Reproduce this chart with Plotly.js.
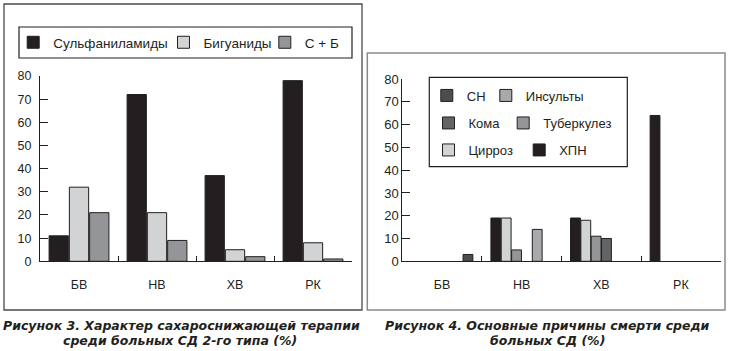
<!DOCTYPE html>
<html>
<head>
<meta charset="utf-8">
<script src="https://cdn.plot.ly/plotly-3.0.1.min.js"></script>
<style>html,body{margin:0;padding:0;background:#fff;}#chart{width:733px;height:351px;}</style>
</head>
<body>
<div id="chart"></div>
<script>
// ---- data ----
const categories = ['БВ', 'НВ', 'ХВ', 'РК'];
const yTickValues = [0, 10, 20, 30, 40, 50, 60, 70, 80];

// Figure 3: therapy (%)
const therapyNames = ['Сульфаниламиды', 'Бигуаниды', 'С + Б'];
const sulfonamides = [11, 72, 37, 78];
const biguanides = [32, 21, 5, 8];
const combined = [21, 9, 2, 1];

// Figure 4: causes of death (%), in bar-slot order
const deathNames = ['ХПН', 'Цирроз', 'Туберкулез', 'Кома', 'Инсульты', 'СН'];
const kidneyFailure = [null, 19, 19, 64];
const cirrhosis = [null, 19, 18, null];
const tuberculosis = [null, 5, 11, null];
const coma = [null, null, 10, null];
const strokes = [null, 14, null, null];
const heartFailure = [3, null, null, null];

// ---- layout helpers ----
const W = 733, H = 351;
const px = x => x / W;
const py = y => 1 - y / H;
const INK = '#231f20';
const FONT = 'Liberation Sans, Arial, sans-serif';
const CAPTION_FONT = 'DejaVu Sans, Liberation Sans, sans-serif';

const therapySeries = [sulfonamides, biguanides, combined];
const therapyColors = [INK, '#d1d3d4', '#939598'];
const deathSeries = [kidneyFailure, cirrhosis, tuberculosis, coma, strokes, heartFailure];
const deathColors = [INK, '#d1d3d4', '#939598', '#636466', '#a7a9ac', '#4d4d4f'];

// legend text start positions (px) and row centres
const therapyLegendPos = [[50.7, 42.5], [201, 42.5], [302.3, 42.5]];
const deathLegendPos = {
  'СН': [464.3, 95.5], 'Инсульты': [523.3, 95.5],
  'Кома': [466, 123], 'Туберкулез': [540.7, 123],
  'Цирроз': [466, 150], 'ХПН': [556.7, 150]
};

const traces = [];
const layout = {
  width: W, height: H,
  margin: {l: 0, r: 0, t: 0, b: 0},
  paper_bgcolor: '#fff', plot_bgcolor: 'rgba(0,0,0,0)',
  barmode: 'group', bargap: 0.22, bargroupgap: 0.05,
  showlegend: true,
  font: {family: FONT, color: INK, size: 12.5},
  shapes: [], annotations: []
};

let legendIdx = 1;
function addLegend(textX, cy, size) {
  const key = legendIdx === 1 ? 'legend' : 'legend' + legendIdx;
  layout[key] = {
    x: px(textX - 37.5), y: py(cy), xanchor: 'left', yanchor: 'middle',
    orientation: 'v', bgcolor: 'rgba(0,0,0,0)', borderwidth: 0,
    font: {family: FONT, size: size, color: INK}
  };
  legendIdx++;
  return key;
}

therapyNames.forEach((n, i) => {
  traces.push({
    type: 'bar', name: n, x: categories, y: therapySeries[i],
    xaxis: 'x', yaxis: 'y',
    marker: {color: therapyColors[i], line: {color: INK, width: 1}},
    legend: addLegend(therapyLegendPos[i][0], therapyLegendPos[i][1], 13.5),
    hoverinfo: 'skip'
  });
});
deathNames.forEach((n, i) => {
  traces.push({
    type: 'bar', name: n, x: categories, y: deathSeries[i],
    xaxis: 'x2', yaxis: 'y2',
    marker: {color: deathColors[i], line: {color: INK, width: 1}},
    legend: addLegend(deathLegendPos[n][0], deathLegendPos[n][1], 13),
    hoverinfo: 'skip'
  });
});

function xAxis(domain, anchor) {
  return {
    domain: domain, anchor: anchor, type: 'category',
    showline: true, linecolor: INK, linewidth: 1,
    ticks: 'inside', tickson: 'boundaries', ticklen: 5, tickcolor: INK, tickwidth: 1,
    showgrid: false, zeroline: false,
    tickfont: {family: FONT, size: 12.5, color: INK},
    ticklabelstandoff: 12, fixedrange: true
  };
}
function yAxis(domain, anchor, standoff, size) {
  return {
    domain: domain, anchor: anchor, range: [0, 80],
    tickmode: 'array', tickvals: yTickValues, ticktext: yTickValues.map(String),
    showline: true, linecolor: INK, linewidth: 1,
    ticks: 'inside', ticklen: 8, tickcolor: INK, tickwidth: 1,
    showgrid: false, zeroline: false,
    tickfont: {family: FONT, size: size, color: INK},
    ticklabelstandoff: standoff, fixedrange: true
  };
}
layout.xaxis = xAxis([px(40), px(352)], 'y');
layout.yaxis = yAxis([py(261.3), py(76)], 'x', 5, 12.5);
layout.xaxis2 = xAxis([px(402.3), px(720.7)], 'y2');
layout.yaxis2 = yAxis([py(261.3), py(79)], 'x2', 0, 13);

function rect(x0, y0, x1, y1, color, w) {
  layout.shapes.push({type: 'rect', xref: 'paper', yref: 'paper',
    x0: px(x0), x1: px(x1), y0: py(y1), y1: py(y0),
    line: {color: color, width: w}, fillcolor: 'rgba(0,0,0,0)', layer: 'below'});
}
// panel frames and legend boxes
rect(4, 4, 362, 310, '#4a4a4a', 1.3);
rect(367.3, 53, 725, 310, '#8a8a8a', 1.5);
rect(19, 27, 352, 58, INK, 1.2);
rect(429.3, 77.3, 627.3, 166.7, INK, 1.2);

function caption(text, x, y) {
  layout.annotations.push({text: text, xref: 'paper', yref: 'paper',
    x: px(x), y: py(y), xanchor: 'center', yanchor: 'middle', showarrow: false,
    font: {family: CAPTION_FONT, size: 12.5, color: INK, weight: 'bold', style: 'italic'}});
}
caption('Рисунок 3. Характер сахароснижающей терапии', 181, 325.2);
caption('среди больных СД 2-го типа (%)', 180, 340.5);
caption('Рисунок 4. Основные причины смерти среди', 547, 325.2);
caption('больных СД (%)', 547.5, 340.5);

Plotly.newPlot('chart', traces, layout, {staticPlot: true, displayModeBar: false});
</script>
</body>
</html>
